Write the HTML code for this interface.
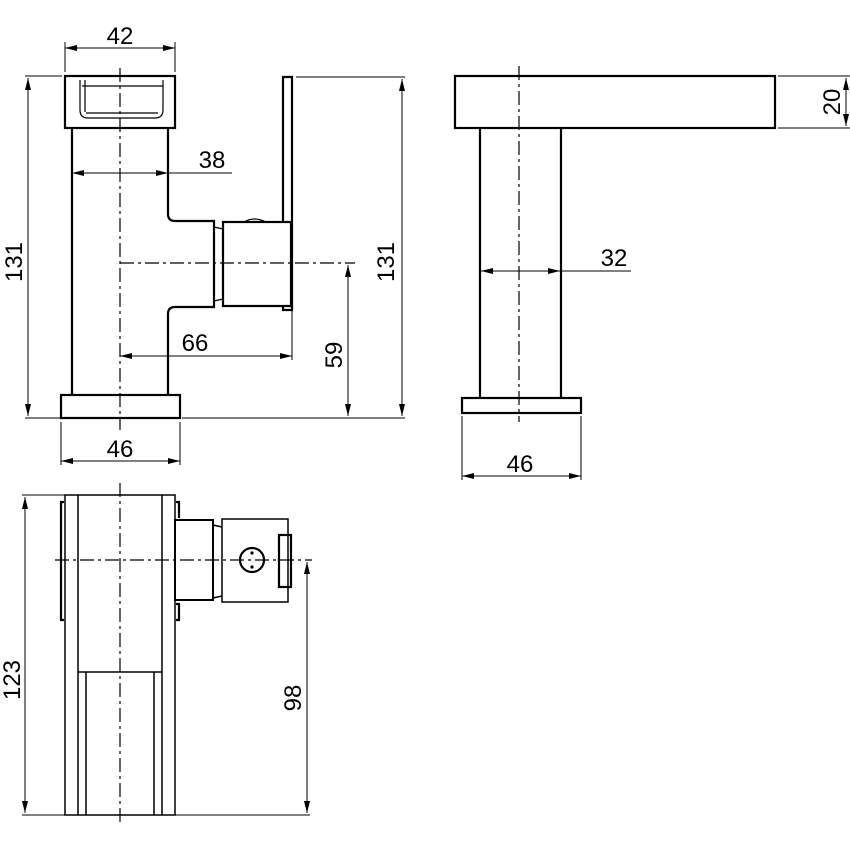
<!DOCTYPE html>
<html><head><style>body{margin:0;background:#fff}svg{display:block}</style></head>
<body>
<svg width="850" height="850" viewBox="0 0 850 850" xmlns="http://www.w3.org/2000/svg">
<defs>
<marker id="a" viewBox="0 0 12 6" refX="12" refY="3" markerWidth="12" markerHeight="6" orient="auto-start-reverse" markerUnits="userSpaceOnUse"><path d="M0,0 L12,3 L0,6z" fill="#000"/></marker>
</defs>
<g fill="none" stroke="#000" font-family="Liberation Sans, sans-serif">
<!-- FRONT VIEW -->
<g stroke-width="2.2">
<rect x="65" y="76" width="110" height="52"/>
<path d="M72 128 V395 M168 128 V214 Q168 221 175 221 H214 V307 H175 Q168 307 168 314 V395"/>
<rect x="61" y="395" width="119" height="23"/>
<rect x="223" y="222" width="68" height="84"/>
<path d="M283 222 V77 H292 V310 H283 V306"/>
</g>
<g stroke-width="1.2">
<path d="M80 80 V110 Q80 118 88 118 H155 Q163 118 163 110 V80 M85 80 V112 M82 86 H163 M86 113 H158"/>
<path d="M214 227 L223 229 M214 301 L223 299"/>
<path d="M244 222 Q254 216 266 222"/>
</g>
<g stroke-width="1.2" stroke-dasharray="14 4 3 4">
<path d="M120 68 V430"/><path d="M120 263 H355"/>
</g>
<g stroke-width="1">
<path d="M65 42 V72 M175 42 V72"/>
<path d="M65 48 H175" marker-start="url(#a)" marker-end="url(#a)"/>
<path d="M72 173 H168" marker-start="url(#a)" marker-end="url(#a)"/><path d="M168 173 H232"/>
<path d="M120 356 H292" marker-start="url(#a)" marker-end="url(#a)"/><path d="M292 310 V360"/>
<path d="M348 265 V416" marker-start="url(#a)" marker-end="url(#a)"/>
<path d="M28 78 V416" marker-start="url(#a)" marker-end="url(#a)"/><path d="M25 76 H62 M25 418 H60 M182 418 H405"/>
<path d="M402 79 V416" marker-start="url(#a)" marker-end="url(#a)"/><path d="M296 77 H405"/>
<path d="M61 422 V465 M180 422 V465"/>
<path d="M61 461 H180" marker-start="url(#a)" marker-end="url(#a)"/>
</g>
<!-- RIGHT VIEW -->
<g stroke-width="2.2">
<rect x="455" y="76" width="320" height="52"/>
<path d="M480 128 V398 M561 128 V398"/>
<rect x="462" y="398" width="119" height="15"/>
</g>
<path d="M519 66 V422" stroke-width="1.2" stroke-dasharray="14 4 3 4"/>
<g stroke-width="1">
<path d="M778 76 H850 M778 128 H850"/>
<path d="M846 78 V126" marker-start="url(#a)" marker-end="url(#a)"/>
<path d="M481 271 H560" marker-start="url(#a)" marker-end="url(#a)"/><path d="M560 271 H631"/>
<path d="M462 416 V480 M581 416 V480"/>
<path d="M462 476 H581" marker-start="url(#a)" marker-end="url(#a)"/>
</g>
<!-- BOTTOM VIEW -->
<g stroke-width="1.5">
<rect x="65" y="495" width="110" height="320"/>
<path d="M78 495 V815 M162 495 V815 M78 672 H162 M86 672 V815 M154 672 V815"/>
<rect x="175" y="520" width="38" height="80" stroke-width="2"/>
<path d="M213 525 L222 527 M213 598 L222 596"/>
<rect x="222" y="519" width="66" height="83"/>
<rect x="279" y="535" width="12" height="52" stroke-width="2.2"/>
<circle cx="252" cy="560" r="12" stroke-width="2.2"/>
</g>
<g stroke-width="2.2"><path d="M64 502 H61 V620 H64 M176 502 H179 V518 M176 604 H179 V620 H176"/></g>
<circle cx="252" cy="553" r="1.6" fill="#000" stroke="none"/><circle cx="252" cy="567" r="1.6" fill="#000" stroke="none"/>
<g stroke-width="1.2" stroke-dasharray="14 4 3 4">
<path d="M120 483 V825"/><path d="M55 560 H312"/>
</g>
<g stroke-width="1">
<path d="M22 495 H65 M22 815 H65 M175 815 H310"/>
<path d="M25 497 V813" marker-start="url(#a)" marker-end="url(#a)"/>
<path d="M307 562 V813" marker-start="url(#a)" marker-end="url(#a)"/>
</g>
</g>
<g font-family="Liberation Sans, sans-serif" font-size="24" fill="#000" text-anchor="middle">
<text x="120" y="44">42</text>
<text x="212" y="168">38</text>
<text x="195" y="351">66</text>
<text x="120" y="457">46</text>
<text x="614" y="266">32</text>
<text x="520" y="472">46</text>
<text transform="translate(22,262) rotate(-90)">131</text>
<text transform="translate(394,262) rotate(-90)">131</text>
<text transform="translate(342,355) rotate(-90)">59</text>
<text transform="translate(840,102) rotate(-90)">20</text>
<text transform="translate(20,680) rotate(-90)">123</text>
<text transform="translate(301,698) rotate(-90)">98</text>
</g>
</svg>
</body></html>
